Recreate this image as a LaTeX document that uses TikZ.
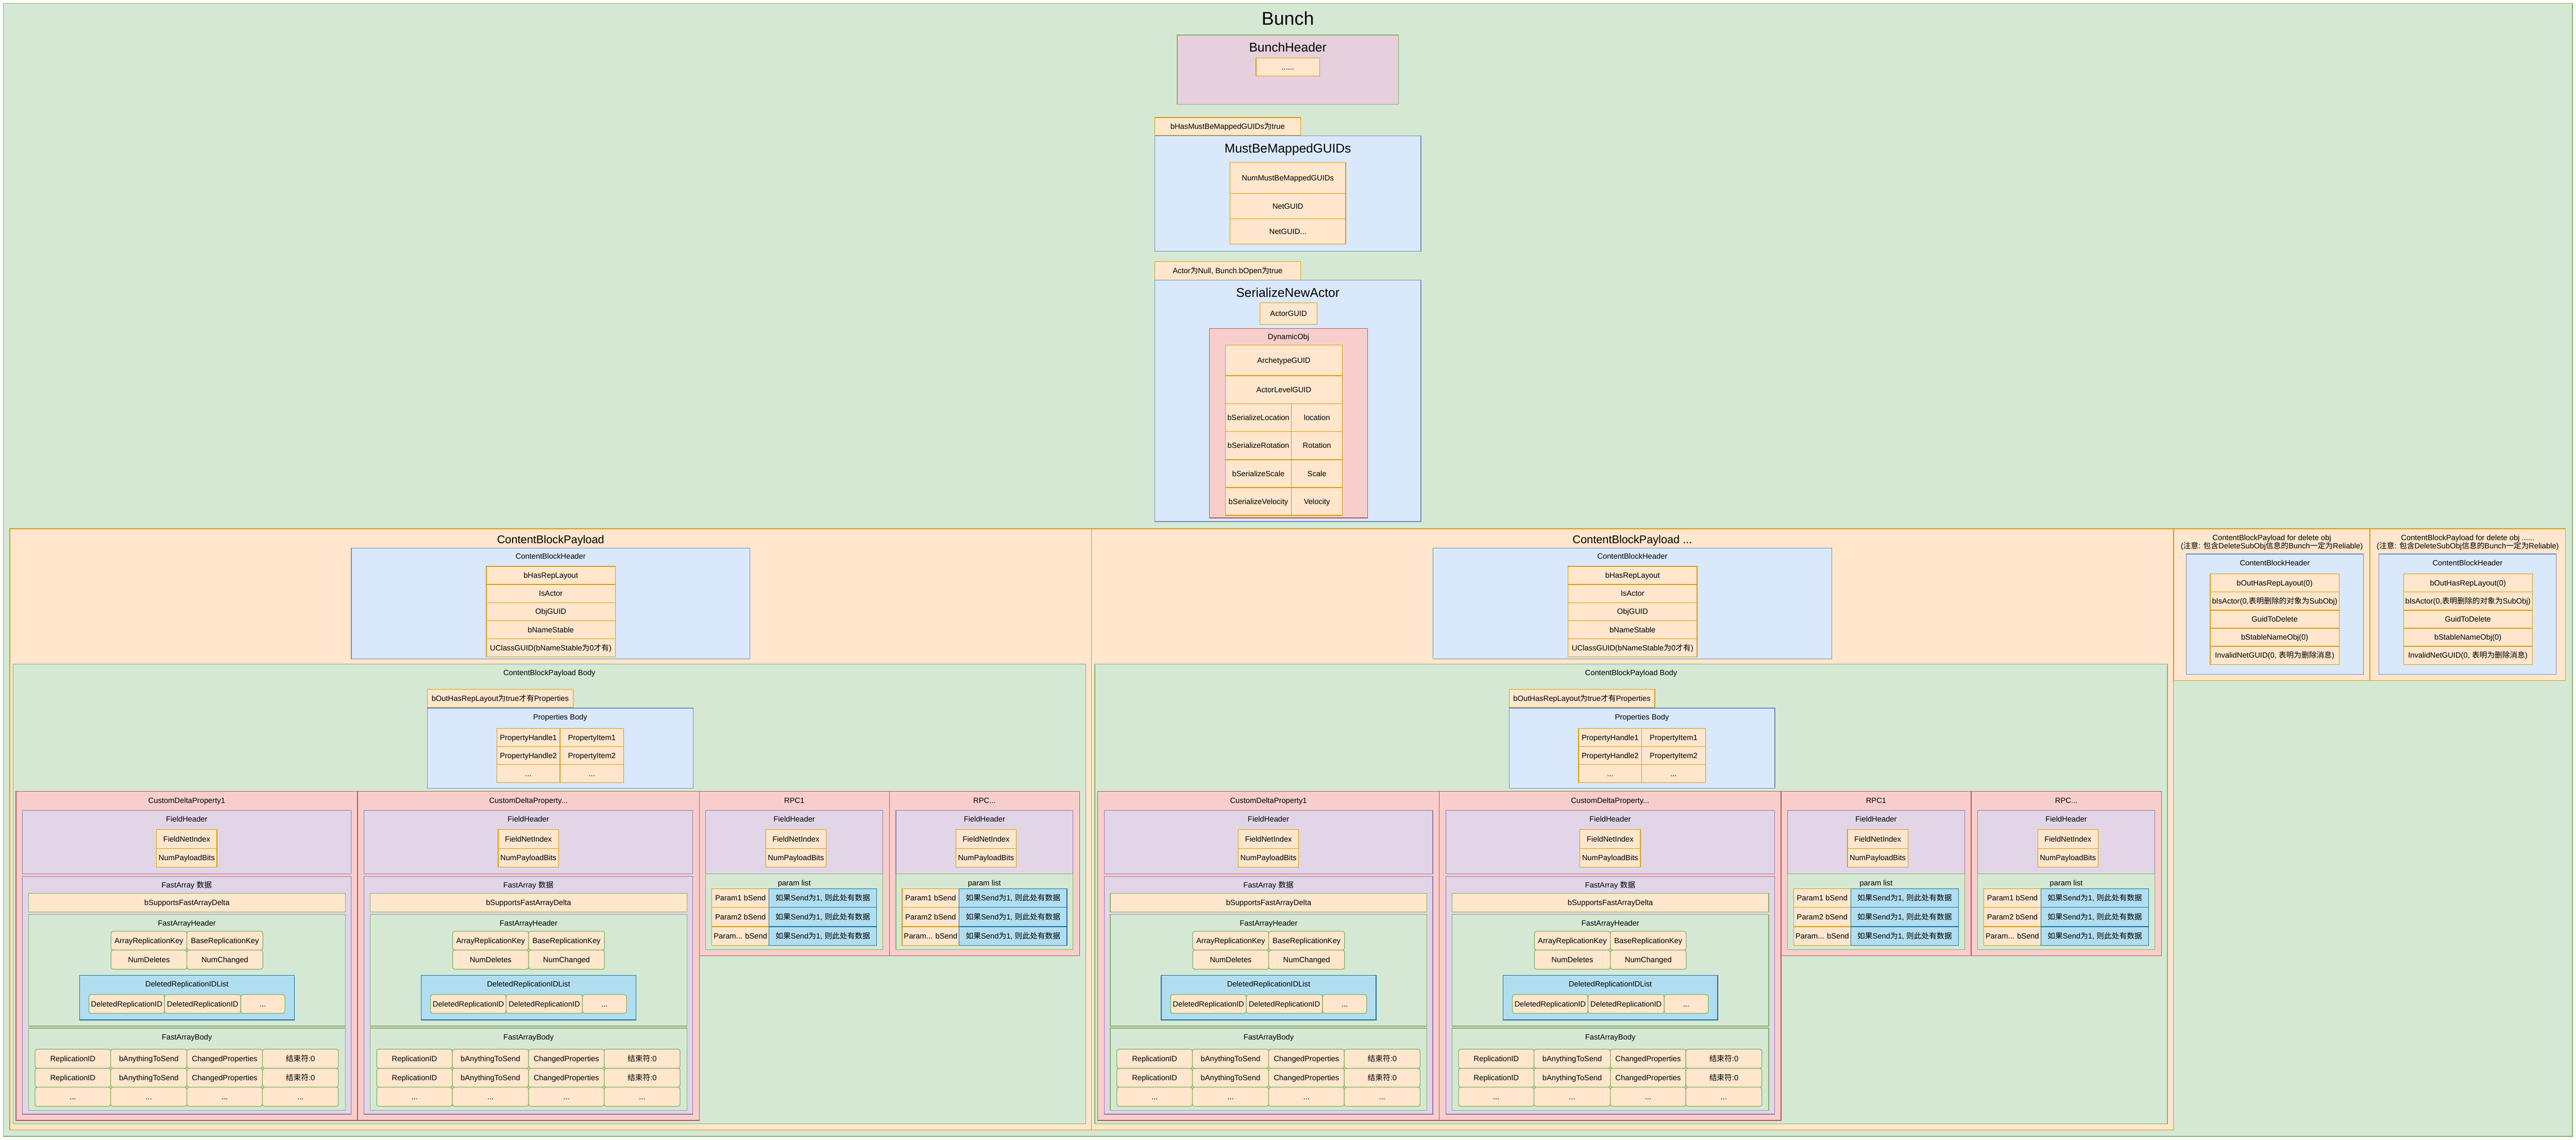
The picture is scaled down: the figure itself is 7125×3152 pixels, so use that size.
\documentclass[tikz,border=0pt]{standalone}
\usepackage{fontspec}
\setmainfont{Liberation Sans}
\newfontfamily\cjk{Noto Sans CJK SC}
\newcommand\zh[1]{{\cjk #1}}
\definecolor{gF}{HTML}{D5E8D4}\definecolor{gL}{HTML}{82B366}
\definecolor{oF}{HTML}{FFE6CC}\definecolor{oL}{HTML}{D79B00}
\definecolor{bF}{HTML}{DAE8FC}\definecolor{bL}{HTML}{6C8EBF}
\definecolor{rF}{HTML}{F8CECC}\definecolor{rL}{HTML}{B85450}
\definecolor{pF}{HTML}{E1D5E7}\definecolor{pL}{HTML}{9673A6}
\definecolor{lF}{HTML}{B1DDF0}\definecolor{lL}{HTML}{10739E}
\definecolor{hF}{HTML}{E6D0DE}
\tikzset{
  every node/.style={inner sep=0pt,outer sep=0pt,font=\fontsize{21}{25}\selectfont,text height=15pt,text depth=0pt},
  t21/.style={},
  t31/.style={font=\fontsize{31}{37}\selectfont,text height=22pt},
  t35/.style={font=\fontsize{35}{42}\selectfont,text height=25pt},
  t51/.style={font=\fontsize{51}{61}\selectfont,text height=36.5pt},
  base/.style={line width=1.8pt},
  gbox/.style={base,fill=gF,draw=gL},
  obox/.style={base,fill=oF,draw=oL},
  bbox/.style={base,fill=bF,draw=bL},
  rbox/.style={base,fill=rF,draw=rL},
  pbox/.style={base,fill=pF,draw=pL},
  lbox/.style={base,fill=lF,draw=lL},
  hbox/.style={base,fill=hF,draw=gL},
  ogbox/.style={base,fill=oF,draw=gL},
  ogr/.style={ogbox,rounded corners=6pt},
}
% box: name, style, x1, y1, x2, y2, text
\newcommand\bx[7]{\node[#2,anchor=north west,minimum width={(#5)-(#3)},minimum height={(#6)-(#4)}] (#1) at ({#3},{#4}) {#7};}
% title: [style] name, x, y, text
\newcommand\tl[5][t21]{\node[#1] (#2) at ({#3},{#4}) {#5};}
\newcommand\farow[7]{%
  \bx{#1a}{ogr}{53}{#2}{262}{#3}{#4}%
  \bx{#1b}{ogr}{262}{#2}{473}{#3}{#5}%
  \bx{#1c}{ogr}{473}{#2}{682}{#3}{#6}%
  \bx{#1d}{ogr}{682}{#2}{892}{#3}{#7}}
\newcommand\prow[4]{%
  \bx{#1n}{obox}{35}{#2}{193}{#3}{#4}%
  \bx{#1v}{lbox}{193}{#2}{491}{#3}{\zh{如果}Send\zh{为}1, \zh{则此处有数据}}}
\newcommand\CDP[3]{%
\begin{scope}[shift={(#1,0)},name prefix=#2]
\bx{box}{rbox}{0}{2188}{945}{3098}{}
\tl{t}{472.5}{2213}{#3}
\bx{fh}{pbox}{18}{2241}{927}{2416}{}
\tl{fht}{472.5}{2265}{FieldHeader}
\bx{fni}{obox}{389}{2293}{556}{2346}{FieldNetIndex}
\bx{npb}{obox}{389}{2346}{556}{2398}{NumPayloadBits}
\bx{fa}{pbox}{18}{2423}{927}{3081}{}
\tl{fat}{472.5}{2447}{FastArray \zh{数据}}
\bx{sfd}{ogbox}{35}{2470}{911}{2522}{bSupportsFastArrayDelta}
\bx{fah}{gbox}{35}{2529}{911}{2837}{}
\tl{faht}{473}{2553}{FastArrayHeader}
\bx{ark}{ogr}{263}{2575}{473}{2627}{ArrayReplicationKey}
\bx{brk}{ogr}{473}{2575}{683}{2627}{BaseReplicationKey}
\bx{nd}{ogr}{263}{2627}{473}{2680}{NumDeletes}
\bx{nc}{ogr}{473}{2627}{683}{2680}{NumChanged}
\bx{drl}{lbox}{176}{2697}{770}{2820}{}
\tl{drlt}{473}{2721}{DeletedReplicationIDList}
\bx{dra}{ogr}{202}{2750}{411}{2802}{DeletedReplicationID}
\bx{drb}{ogr}{411}{2750}{622}{2802}{DeletedReplicationID}
\bx{drc}{ogr}{622}{2750}{744}{2802}{...}
\bx{fab}{gbox}{35}{2843}{911}{3070}{}
\tl{fabt}{473}{2867}{FastArrayBody}
\farow{ra}{2901}{2954}{ReplicationID}{bAnythingToSend}{ChangedProperties}{\zh{结束符}:0}
\farow{rb}{2954}{3006}{ReplicationID}{bAnythingToSend}{ChangedProperties}{\zh{结束符}:0}
\farow{rc}{3006}{3059}{...}{...}{...}{...}
\end{scope}}
\newcommand\RPC[3]{%
\begin{scope}[shift={(#1,0)},name prefix=#2]
\bx{box}{rbox}{0}{2188}{526}{2643}{}
\tl{t}{263}{2213}{#3}
\bx{fh}{pbox}{18}{2241}{508}{2416}{}
\tl{fht}{263}{2265}{FieldHeader}
\bx{fni}{obox}{184}{2293}{351}{2346}{FieldNetIndex}
\bx{npb}{obox}{184}{2346}{351}{2398}{NumPayloadBits}
\bx{pl}{gbox}{18}{2416}{508}{2626}{}
\tl{plt}{263}{2441}{param list}
\prow{pa}{2457}{2509}{Param1 bSend}
\prow{pb}{2509}{2562}{Param2 bSend}
\prow{pc}{2562}{2614}{Param... bSend}
\end{scope}}
\newcommand\CBP[3]{%
\begin{scope}[shift={(#1,0)},name prefix=#2]
\bx{box}{obox}{27}{1462}{3019}{3124}{}
\tl[t31]{t}{1523}{1491}{#3}
\bx{cbh}{bbox}{972}{1515}{2074}{1822}{}
\tl{cbht}{1523}{1538}{ContentBlockHeader}
\bx{ha}{obox}{1345}{1566}{1702}{1616}{bHasRepLayout}
\bx{hb}{obox}{1345}{1616}{1702}{1666}{IsActor}
\bx{hc}{obox}{1345}{1666}{1702}{1716}{ObjGUID}
\bx{hd}{obox}{1345}{1716}{1702}{1766}{bNameStable}
\bx{he}{obox}{1345}{1766}{1702}{1816}{UClassGUID(bNameStable\zh{为}0\zh{才有})}
\bx{body}{gbox}{36}{1836}{3003}{3107}{}
\tl{bodyt}{1519.5}{1860}{ContentBlockPayload Body}
\bx{cond}{obox}{1182}{1906}{1585}{1956}{bOutHasRepLayout\zh{为}true\zh{才有}Properties}
\bx{pb}{bbox}{1182}{1958}{1917}{2179}{}
\tl{pbt}{1549.5}{1983}{Properties Body}
\bx{pa1}{obox}{1374}{2014}{1549}{2064}{PropertyHandle1}
\bx{pa2}{obox}{1549}{2014}{1725}{2064}{PropertyItem1}
\bx{pb1}{obox}{1374}{2064}{1549}{2114}{PropertyHandle2}
\bx{pb2}{obox}{1549}{2064}{1725}{2114}{PropertyItem2}
\bx{pc1}{obox}{1374}{2114}{1549}{2164}{...}
\bx{pc2}{obox}{1549}{2114}{1725}{2164}{...}
\end{scope}
\CDP{#1+44}{#2cdpa-}{CustomDeltaProperty1}
\CDP{#1+989}{#2cdpb-}{CustomDeltaProperty...}
\RPC{#1+1934}{#2rpca-}{RPC1}
\RPC{#1+2460}{#2rpcb-}{RPC...}}
\newcommand\DEL[8]{%
\begin{scope}[name prefix=#1]
\bx{box}{obox}{#2}{1462}{#3}{1882}{}
\tl{ta}{(#2+#3)/2}{1487}{#8}
\tl{tb}{(#2+#3)/2}{1510}{(\zh{注意}: \zh{包含}DeleteSubObj\zh{信息的}Bunch\zh{一定为}Reliable)}
\bx{cbh}{bbox}{#4}{1532}{#5}{1865}{}
\tl{cbht}{(#4+#5)/2}{1556}{ContentBlockHeader}
\bx{ia}{obox}{#6}{1587}{#7}{1637}{bOutHasRepLayout(0)}
\bx{ib}{obox}{#6}{1637}{#7}{1687}{bIsActor(0,\zh{表明删除的对象为}SubObj)}
\bx{ic}{obox}{#6}{1687}{#7}{1737}{GuidToDelete}
\bx{id}{obox}{#6}{1737}{#7}{1787}{bStableNameObj(0)}
\bx{ie}{obox}{#6}{1787}{#7}{1837}{InvalidNetGUID(0, \zh{表明为删除消息})}
\end{scope}}
\begin{document}
\begin{tikzpicture}[x=1pt,y=-1pt]
\useasboundingbox (0,0) rectangle (7125,3152);
% Bunch
\bx{bunch}{gbox}{9}{9}{7115}{3142}{}
\tl[t51]{bunch-t}{3562}{51}{Bunch}
% BunchHeader
\bx{bh}{hbox}{3256}{97}{3868}{289}{}
\tl[t35]{bh-t}{3562}{131}{BunchHeader}
\bx{bh-i}{obox}{3474}{160}{3650}{210}{......}
% MustBeMappedGUIDs
\bx{mbm-c}{obox}{3194}{325}{3597}{374}{bHasMustBeMappedGUIDs\zh{为}true}
\bx{mbm}{bbox}{3194}{376}{3930}{695}{}
\tl[t35]{mbm-t}{3562}{410}{MustBeMappedGUIDs}
\bx{mbm-a}{obox}{3402}{450}{3722}{535}{NumMustBeMappedGUIDs}
\bx{mbm-b}{obox}{3402}{535}{3722}{605}{NetGUID}
\bx{mbm-d}{obox}{3402}{605}{3722}{675}{NetGUID...}
% SerializeNewActor
\bx{sna-c}{obox}{3194}{723}{3597}{774}{Actor\zh{为}Null, Bunch.bOpen\zh{为}true}
\bx{sna}{bbox}{3194}{775}{3930}{1442}{}
\tl[t35]{sna-t}{3562}{809}{SerializeNewActor}
\bx{agu}{obox}{3485}{837}{3643}{897}{ActorGUID}
\bx{dyn}{rbox}{3345}{908}{3783}{1432}{}
\tl{dyn-t}{3564}{931}{DynamicObj}
\bx{dyn-a}{obox}{3389}{954}{3713}{1039}{ArchetypeGUID}
\bx{dyn-b}{obox}{3389}{1039}{3713}{1116}{ActorLevelGUID}
\bx{dyn-c1}{obox}{3389}{1116}{3572}{1193}{bSerializeLocation}
\bx{dyn-c2}{obox}{3572}{1116}{3713}{1193}{location}
\bx{dyn-d1}{obox}{3389}{1193}{3572}{1271}{bSerializeRotation}
\bx{dyn-d2}{obox}{3572}{1193}{3713}{1271}{Rotation}
\bx{dyn-e1}{obox}{3389}{1271}{3572}{1348}{bSerializeScale}
\bx{dyn-e2}{obox}{3572}{1271}{3713}{1348}{Scale}
\bx{dyn-f1}{obox}{3389}{1348}{3572}{1425}{bSerializeVelocity}
\bx{dyn-f2}{obox}{3572}{1348}{3713}{1425}{Velocity}
% ContentBlockPayloads
\CBP{0}{cbpa-}{ContentBlockPayload}
\CBP{2992}{cbpb-}{ContentBlockPayload ...}
% delete payloads
\DEL{dela-}{6012}{6555}{6047}{6537}{6113}{6470}{ContentBlockPayload for delete obj}
\DEL{delb-}{6555}{7096}{6580}{7070}{6648}{7004}{ContentBlockPayload for delete obj ......}
\end{tikzpicture}
\end{document}
